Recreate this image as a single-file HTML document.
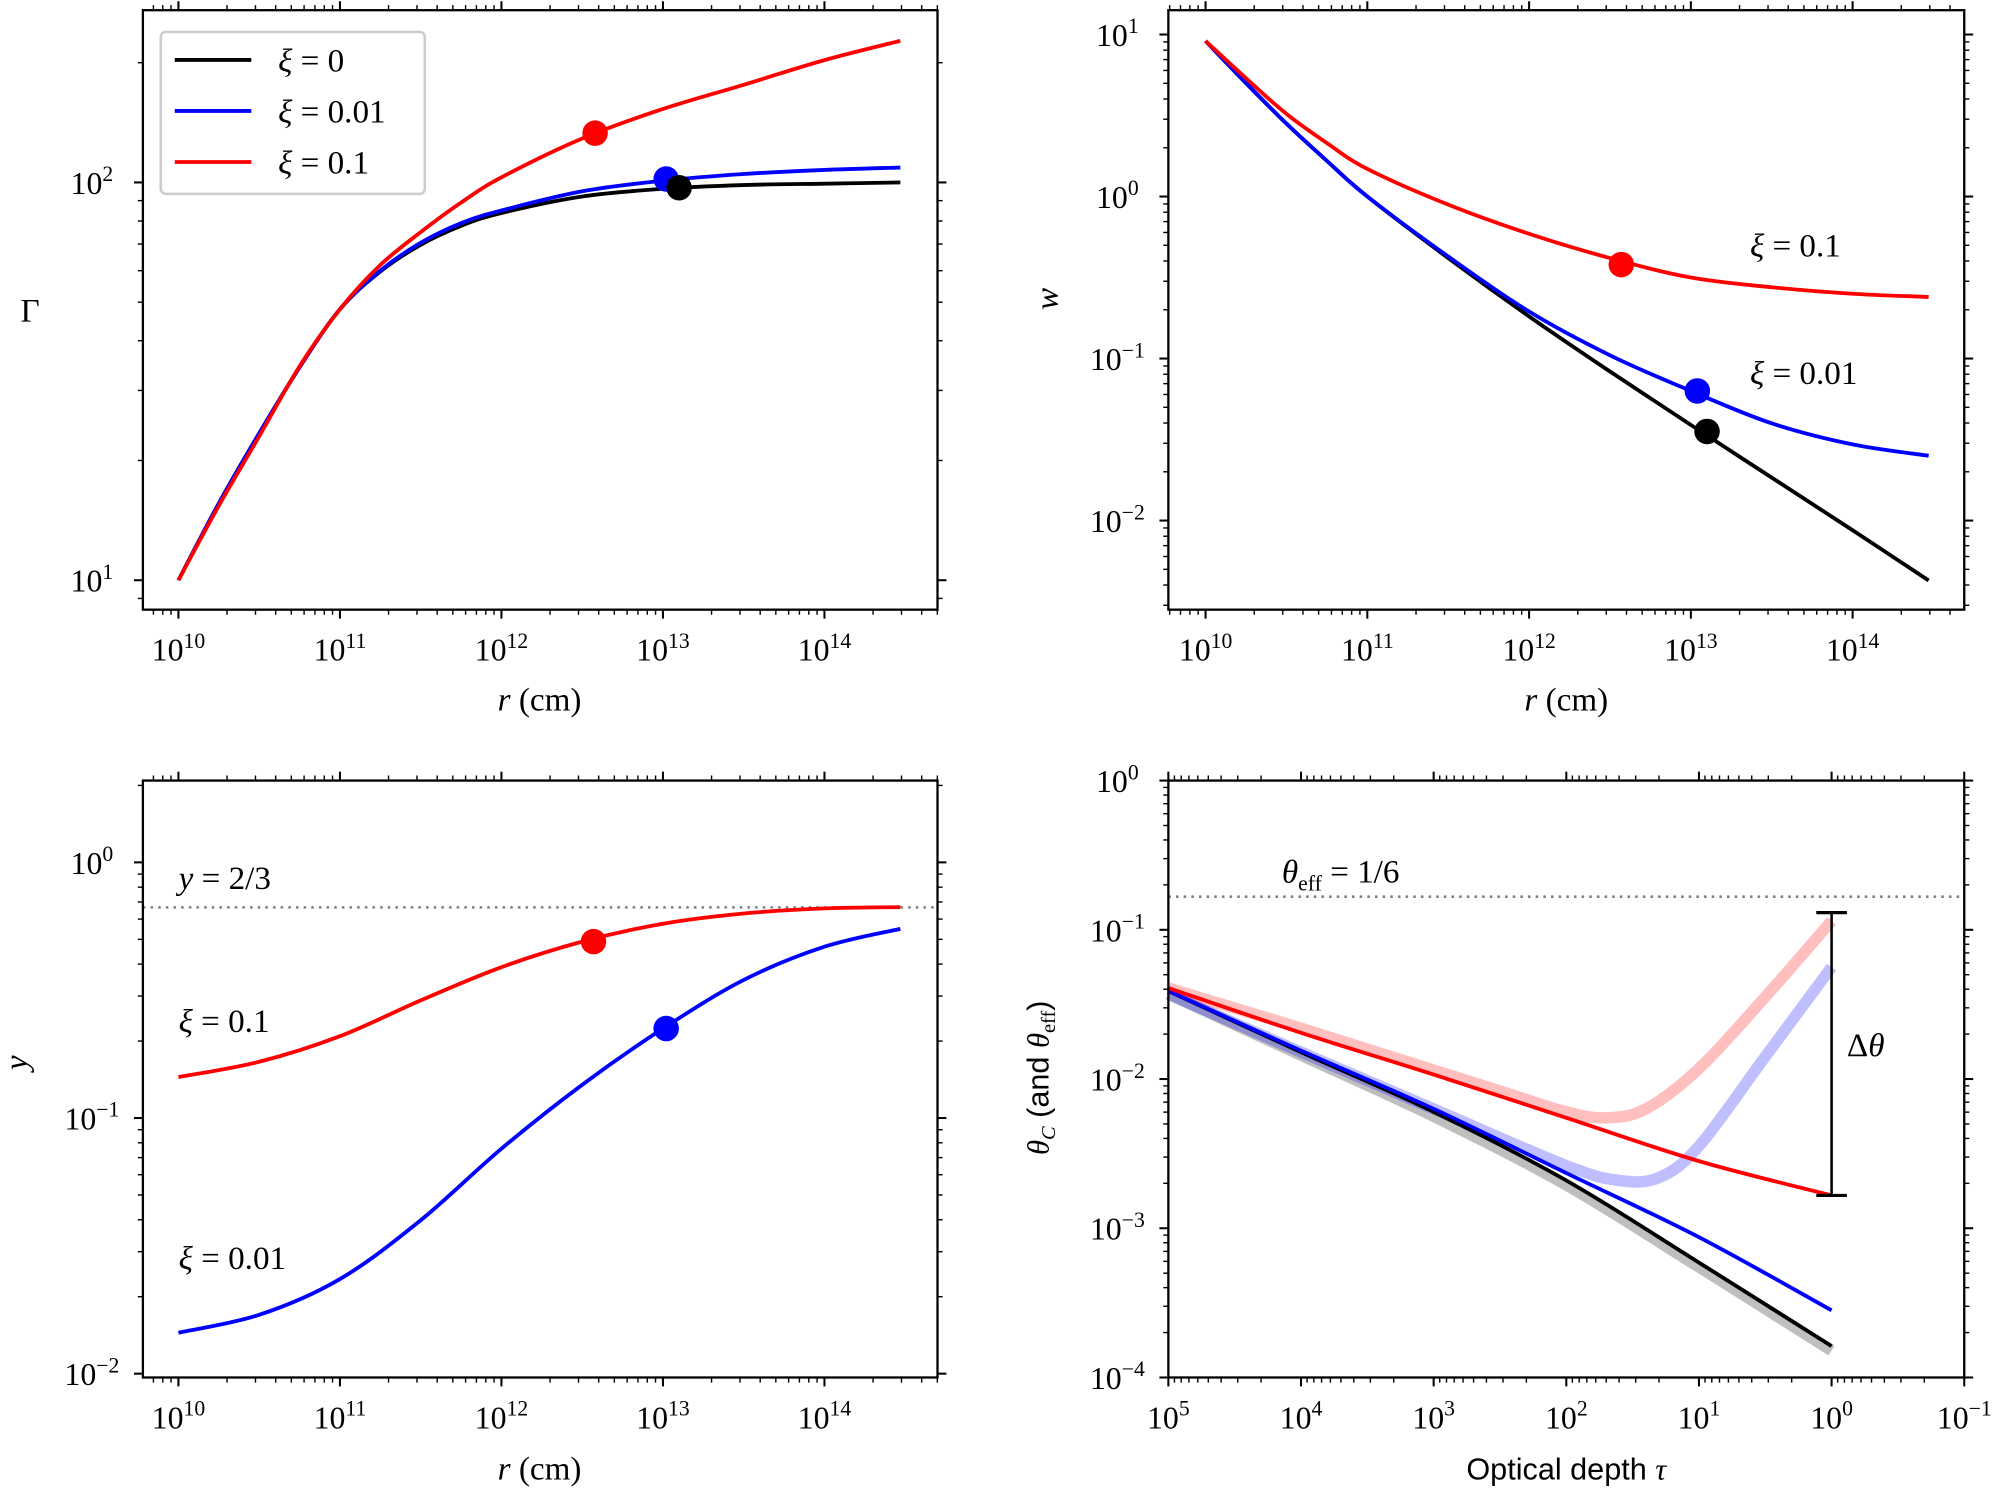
<!DOCTYPE html>
<html><head><meta charset="utf-8"><style>html,body{margin:0;padding:0;background:#fff}svg{display:block}</style></head>
<body>
<svg id="fig" width="2000" height="1491" viewBox="0 0 1568 1169" xmlns="http://www.w3.org/2000/svg" font-family="'Liberation Serif', serif"></svg>
<script>
// ---- data ----
const rLog = [10,10.25,10.5,10.75,11,11.25,11.5,11.75,12,12.5,13,13.5,14,14.47];
const gammaBlack = [10,15.6,23.4,34.3,48,59.7,69.7,77.8,83.8,92.2,96.4,98.5,99.3,100];
const gammaBlue  = [10,15.6,23.4,34.3,48,60,70.5,79,85,95,101,105,107.5,109];
const gammaRed   = [10,15.4,23,34.5,48,62,75,89,103,129,153,176,203,227];
const rLogW = [10,10.25,10.5,10.75,11,11.5,12,12.5,13,13.5,14,14.47];
const logWBlack = [0.96,0.7,0.45,0.22,0.0,-0.38,-0.74,-1.08,-1.41,-1.735,-2.06,-2.37];
const logWBlue  = [0.96,0.7,0.45,0.22,0.0,-0.37,-0.71,-0.98,-1.2,-1.40,-1.53,-1.6];
const logWRed   = [0.96,0.73,0.51,0.33,0.17,-0.05,-0.23,-0.38,-0.50,-0.56,-0.60,-0.62];
const rLogY = [10,10.5,11,11.5,12,12.5,13,13.5,14,14.47];
const logYRed  = [-0.84,-0.78,-0.68,-0.54,-0.41,-0.31,-0.24,-0.2,-0.18,-0.175];
const logYBlue = [-1.84,-1.77,-1.63,-1.40,-1.12,-0.87,-0.65,-0.46,-0.33,-0.26];
const tauLog = [5,4,3,2,1,0];
const thBlack = [-1.41,-1.82,-2.22,-2.68,-3.23,-3.79];
const thBlue  = [-1.41,-1.81,-2.2,-2.63,-3.06,-3.55];
const thRed   = [-1.39,-1.69,-1.97,-2.26,-2.55,-2.78];
const tauLogRedE = [5,4,3,2.5,2,1.7,1.4,1,0.5,0];
const thRedE  = [-1.39,-1.66,-1.94,-2.08,-2.22,-2.26,-2.2,-1.93,-1.45,-0.94];
const tauLogBlueE = [5,4,3,2,1.6,1.3,1,0.5,0];
const thBlueE = [-1.43,-1.82,-2.2,-2.58,-2.68,-2.66,-2.45,-1.85,-1.25];
const thGrayE = [-1.43,-1.84,-2.25,-2.71,-3.26,-3.82];
const dotsGamma = [[12.58,133,'red'],[13.02,102,'blue'],[13.10,97,'black']];
const dotsW = [[12.57,-0.42,'red'],[13.04,-1.20,'blue'],[13.10,-1.45,'black']];
const dotsY = [[12.57,-0.31,'red'],[13.02,-0.65,'blue']];

const NS='http://www.w3.org/2000/svg';
const fig=document.getElementById('fig');
function el(tag,attrs,parent){const e=document.createElementNS(NS,tag);for(const k in attrs)e.setAttribute(k,attrs[k]);(parent||fig).appendChild(e);return e;}
function smooth(pts){let d='M'+pts[0][0]+','+pts[0][1];for(let i=0;i<pts.length-1;i++){const p0=pts[i-1]||pts[i],p1=pts[i],p2=pts[i+1],p3=pts[i+2]||p2;const c1=[p1[0]+(p2[0]-p0[0])/6,p1[1]+(p2[1]-p0[1])/6],c2=[p2[0]-(p3[0]-p1[0])/6,p2[1]-(p3[1]-p1[1])/6];d+=` C${c1[0]},${c1[1]} ${c2[0]},${c2[1]} ${p2[0]},${p2[1]}`;}return d;}
function mkAxis(b,xr,yr){return {b,sx:v=>b.x0+(v-xr[0])/(xr[1]-xr[0])*(b.x1-b.x0),sy:v=>b.y1-(v-yr[0])/(yr[1]-yr[0])*(b.y1-b.y0),xr,yr};}
function ticks(ax,name,xlab,ylab){
  const b=ax.b;const g=el('g',{});
  const lo=(r)=>Math.min(r[0],r[1]),hi=(r)=>Math.max(r[0],r[1]);
  for(let d=Math.floor(lo(ax.xr))-1;d<=Math.ceil(hi(ax.xr));d++){for(let k=1;k<10;k++){const v=d+Math.log10(k);if(v<lo(ax.xr)-1e-6||v>hi(ax.xr)+1e-6)continue;const x=ax.sx(v),L=k==1?7:4;
    el('line',{x1:x,x2:x,y1:b.y1,y2:b.y1+L,stroke:'#000','stroke-width':k==1?1.6:1.1},g);el('line',{x1:x,x2:x,y1:b.y0,y2:b.y0-L,stroke:'#000','stroke-width':k==1?1.6:1.1},g);
    if(k==1&&xlab){const t=el('text',{x:x,y:b.y1+40,'font-size':25,'text-anchor':'middle'},g);t.textContent='10';const s=el('tspan',{dy:-10,'font-size':17},t);s.textContent=(d<0?'−'+(-d):d);}}}
  for(let d=Math.floor(lo(ax.yr))-1;d<=Math.ceil(hi(ax.yr));d++){for(let k=1;k<10;k++){const v=d+Math.log10(k);if(v<lo(ax.yr)-1e-6||v>hi(ax.yr)+1e-6)continue;const y=ax.sy(v),L=k==1?7:4;
    el('line',{x1:b.x0,x2:b.x0-L,y1:y,y2:y,stroke:'#000','stroke-width':k==1?1.6:1.1},g);el('line',{x1:b.x1,x2:b.x1+L,y1:y,y2:y,stroke:'#000','stroke-width':k==1?1.6:1.1},g);
    if(k==1){const t=el('text',{x:b.x0-40,y:y+9,'font-size':25,'text-anchor':'middle'},g);t.textContent='10';const s=el('tspan',{dy:-10,'font-size':17},t);s.textContent=(d<0?'−'+(-d):d);}}}
}
function frame(ax,name){const r=el('rect',{x:ax.b.x0,y:ax.b.y0,width:ax.b.x1-ax.b.x0,height:ax.b.y1-ax.b.y0,fill:'none',stroke:'#000','stroke-width':1.8});}
function line(ax,xs,ys,color,w,op,name,logY){const pts=xs.map((x,i)=>[ax.sx(x),ax.sy(logY?Math.log10(ys[i]):ys[i])]);const p=el('path',{d:smooth(pts),fill:'none',stroke:color,'stroke-width':w,'stroke-opacity':op,'stroke-linecap':'butt'});}
function dot(ax,x,y,c,name){const e=el('circle',{cx:ax.sx(x),cy:ax.sy(y),r:10,fill:c});}
function txt(x,y,s,size,name,extra){const t=el('text',Object.assign({x,y,'font-size':size},extra||{}));t.innerHTML=s;return t;}

// Panel 1
const a1=mkAxis({x0:112,x1:735,y0:8,y1:478},[9.78,14.70],[0.926,2.433]);
line(a1,rLog,gammaBlack,'#000',3,1,'gamma-line-xi0',true);
line(a1,rLog,gammaBlue,'#00f',3,1,'gamma-line-xi001',true);
line(a1,rLog,gammaRed,'#f00',3,1,'gamma-line-xi01',true);
dotsGamma.forEach((d,i)=>dot(a1,d[0],Math.log10(d[1]),d[2],'gamma-marker-'+d[2]));
frame(a1,'gamma-panel');ticks(a1,'gamma-panel',true,true);
txt(16,252,'Γ',26,'gamma-y-axis-title');
txt(423,557,'<tspan font-style="italic">r</tspan> (cm)',26,'gamma-x-axis-title',{'text-anchor':'middle'});
const lg=el('g',{});
el('rect',{x:126,y:25,width:207,height:127,rx:4,fill:'#fff',stroke:'#ccc','stroke-width':2},lg);
[['#000','0'],['#00f','0.01'],['#f00','0.1']].forEach((e,i)=>{const y=47+i*40;const l=el('line',{x1:137,x2:197,y1:y,y2:y,stroke:e[0],'stroke-width':3},lg);const t=el('text',{x:218,y:y+9,'font-size':26},lg);t.innerHTML='<tspan font-style="italic">ξ</tspan> = '+e[1];});

// Panel 2
const a2=mkAxis({x0:916,x1:1540,y0:8,y1:478},[9.77,14.69],[-2.55,1.15]);
line(a2,rLogW,logWBlack,'#000',3,1,'w-line-xi0');
line(a2,rLogW,logWBlue,'#00f',3,1,'w-line-xi001');
line(a2,rLogW,logWRed,'#f00',3,1,'w-line-xi01');
dotsW.forEach(d=>dot(a2,d[0],d[1],d[2],'w-marker-'+d[2]));
frame(a2,'w-panel');ticks(a2,'w-panel',true,true);
txt(822,250,'w',26,'w-y-axis-title',{'font-style':'italic',transform:'rotate(-90 822 243)'});
txt(1228,557,'<tspan font-style="italic">r</tspan> (cm)',26,'w-x-axis-title',{'text-anchor':'middle'});
txt(1372,201,'<tspan font-style="italic">ξ</tspan> = 0.1',26,'w-label-xi01');
txt(1372,301,'<tspan font-style="italic">ξ</tspan> = 0.01',26,'w-label-xi001');

// Panel 3
const a3=mkAxis({x0:112,x1:735,y0:612,y1:1080},[9.78,14.70],[-2.015,0.32]);
const dl=el('line',{x1:112,x2:735,y1:a3.sy(Math.log10(2/3)),y2:a3.sy(Math.log10(2/3)),stroke:'#808080','stroke-width':2,'stroke-dasharray':'2,4'});
line(a3,rLogY,logYRed,'#f00',3,1,'y-line-xi01');
line(a3,rLogY,logYBlue,'#00f',3,1,'y-line-xi001');
dotsY.forEach(d=>dot(a3,d[0],d[1],d[2],'y-marker-'+d[2]));
frame(a3,'y-panel');ticks(a3,'y-panel',true,true);
txt(22,850,'y',26,'y-y-axis-title',{'font-style':'italic',transform:'rotate(-90 16 845)'});
txt(423,1160,'<tspan font-style="italic">r</tspan> (cm)',26,'y-x-axis-title',{'text-anchor':'middle'});
txt(140,697,'<tspan font-style="italic">y</tspan> = 2/3',26,'y-label-two-thirds');
txt(140,809,'<tspan font-style="italic">ξ</tspan> = 0.1',26,'y-label-xi01');
txt(140,995,'<tspan font-style="italic">ξ</tspan> = 0.01',26,'y-label-xi001');

// Panel 4
const a4=mkAxis({x0:916,x1:1540,y0:612,y1:1080},[5,-1],[-4,0]);
const dl2=el('line',{x1:916,x2:1540,y1:a4.sy(Math.log10(1/6)),y2:a4.sy(Math.log10(1/6)),stroke:'#808080','stroke-width':2,'stroke-dasharray':'2,4'});
line(a4,tauLog,thGrayE,'#000',9,0.25,'theta-eff-xi0');
line(a4,tauLogBlueE,thBlueE,'#00f',9,0.25,'theta-eff-xi001');
line(a4,tauLogRedE,thRedE,'#f00',9,0.25,'theta-eff-xi01');
line(a4,tauLog,thBlack,'#000',3,1,'theta-c-xi0');
line(a4,tauLog,thBlue,'#00f',3,1,'theta-c-xi001');
line(a4,tauLog,thRed,'#f00',3,1,'theta-c-xi01');
const eb=el('g',{});
const ebx=a4.sx(0),eby0=a4.sy(-0.885),eby1=a4.sy(-2.78);
el('line',{x1:ebx,x2:ebx,y1:eby0,y2:eby1,stroke:'#000','stroke-width':2},eb);
el('line',{x1:ebx-12,x2:ebx+12,y1:eby0,y2:eby0,stroke:'#000','stroke-width':2.5},eb);
el('line',{x1:ebx-12,x2:ebx+12,y1:eby1,y2:eby1,stroke:'#000','stroke-width':2.5},eb);
frame(a4,'theta-panel');ticks(a4,'theta-panel',true,true);
txt(1448,828,'Δ<tspan font-style="italic">θ</tspan>',26,'delta-theta-label');
txt(1005,692,'<tspan font-style="italic">θ</tspan><tspan font-size="17" dy="6">eff</tspan><tspan dy="-6"> = 1/6</tspan>',26,'theta-eff-label');
txt(1228,1160,'Optical depth <tspan font-family="Liberation Serif, serif" font-style="italic">τ</tspan>',24,'theta-x-axis-title',{'text-anchor':'middle','font-family':"'Liberation Sans', sans-serif"});
txt(822,845,'<tspan font-style="italic" font-family="Liberation Serif, serif">θ</tspan><tspan font-size="16" dy="5" font-style="italic" font-family="Liberation Serif, serif">C</tspan><tspan dy="-5"> (and </tspan><tspan font-style="italic" font-family="Liberation Serif, serif">θ</tspan><tspan font-size="16" dy="5" font-family="Liberation Serif, serif">eff</tspan><tspan dy="-5">)</tspan>',24,'theta-y-axis-title',{'text-anchor':'middle','font-family':"'Liberation Sans', sans-serif",transform:'rotate(-90 822 845)'});
</script>
</body></html>
